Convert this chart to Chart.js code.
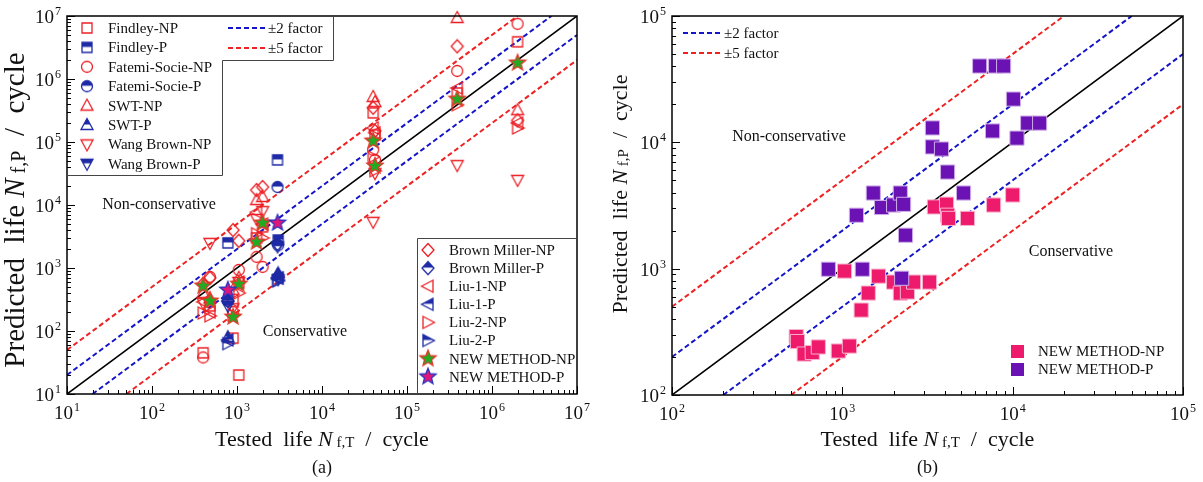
<!DOCTYPE html>
<html>
<head>
<meta charset="utf-8">
<script src="https://cdn.jsdelivr.net/npm/chart.js@4.4.1/dist/chart.umd.min.js"></script>
<style>
  body { margin: 0; background: #fff; width: 1203px; height: 482px; overflow: hidden; position: relative; }
  canvas { position: absolute; top: 0; }
  #chartA { left: 0; }
  #chartB { left: 600px; }
</style>
</head>
<body>
<canvas id="chartA" width="600" height="482"></canvas>
<canvas id="chartB" width="603" height="482"></canvas>
<script>
// ---------- panel (a): all criteria ----------
const rangeA = [10, 1e7];
const decadesA = [1, 2, 3, 4, 5, 6, 7];

// tested lives of the non-proportional and proportional load paths
const testedNP = [400, 480, 900, 1050, 1700, 2000, 40000, 42000, 390000, 2000000];
const testedP = [780, 3000, 3050];

// predicted lives, NP paths
const findleyNP = [45, 250, 77, 20, 3000, 4500, 290000, 130000, 600000, 3900000];
const fatemiNP = [38, 720, 200, 930, 1500, 1040, 75000, 52000, 1340000, 7500000];
const swtNP = [400, 330, 450, 700, 12000, 13400, 520000, 430000, 9300000, 320000];
const wangNP = [280, 2500, 230, 600, 6000, 8000, 5400, 32000, 43000, 25000];
const brownNP = [560, 700, 4000, 2700, 17300, 19300, 350000, 150000, 3300000, 220000];
const liu1NP = [290, 200, 300, 600, 7700, 5000, 167000, 140000, 720000, 200000];
const liu2NP = [193, 174, 180, 400, 3500, 3000, 58000, 35000, 390000, 167000];
const newNP = [520, 300, 167, 557, 2590, 5180, 104000, 41600, 480000, 1800000];

// predicted lives, P paths
const findleyP = [2500, 52000, 2780];
const fatemiP = [300, 19300, 2300];
const swtP = [80, 780, 820];
const wangP = [250, 2200, 660];
const brownP = [300, 2400, 740];
const liu1P = [72, 700, 690];
const liu2P = [63, 620, 640];
const newP = [448, 5180, null];

// ---------- panel (b): new method only ----------
const rangeB = [100, 1e5];
const decadesB = [2, 3, 4, 5];

const testedB_NP = [536, 545, 597, 666, 723, 947, 1100, 1030, 1290, 1420, 1630, 2000, 2190, 2410, 2620, 3250, 3470, 4090, 4150, 4200, 5430, 7730, 10000];
const predictedB_NP = [290, 265, 211, 217, 240, 223, 244, 957, 470, 641, 873, 783, 640, 653, 783, 783, 3080, 3240, 2650, 2500, 2500, 3190, 3830];
const testedB_P = [828, 1310, 1210, 1520, 1700, 2000, 2190, 2290, 2230, 2350, 3380, 3380, 3820, 4150, 5150, 6400, 7940, 8850, 10100, 7620, 10600, 12250, 14400];
const predictedB_P = [990, 990, 2650, 3970, 3050, 3190, 3970, 3230, 840, 1840, 13000, 9200, 8850, 5820, 3970, 40200, 40200, 40200, 22000, 12300, 10800, 14200, 14200];

const scatterFactors = [2, 5];

// ---------- styles ----------
const SERIF = '"Liberation Serif", "Times New Roman", serif';
const RED = '#ec1f24';
const BLUE = '#1e2aa6';
const GUIDE_BLUE = '#1414c8';
const GUIDE_RED = '#ee2222';
const PINK = '#ee1a6c';
const PURPLE = '#6a12b4';

// marker outlines, centred on 0,0
function polyPath(pts) {
  const p = new Path2D();
  pts.forEach(([x, y], i) => (i ? p.lineTo(x, y) : p.moveTo(x, y)));
  p.closePath();
  return p;
}

function starPath(ro, ri) {
  const pts = [];
  for (let i = 0; i < 10; i++) {
    const r = i % 2 ? ri : ro;
    const a = -Math.PI / 2 + (i * Math.PI) / 5;
    pts.push([r * Math.cos(a), r * Math.sin(a)]);
  }
  return polyPath(pts);
}

const SHAPES = {
  square: () => { const p = new Path2D(); p.rect(-5, -5, 10, 10); return p; },
  circle: () => { const p = new Path2D(); p.arc(0, 0, 5.5, 0, Math.PI * 2); return p; },
  up: () => polyPath([[0, -6.5], [6, 4.5], [-6, 4.5]]),
  down: () => polyPath([[0, 6.5], [6, -4.5], [-6, -4.5]]),
  diamond: () => polyPath([[0, -6.5], [6, 0], [0, 6.5], [-6, 0]]),
  left: () => polyPath([[-6.5, 0], [5, -6], [5, 6]]),
  right: () => polyPath([[6.5, 0], [-5, -6], [-5, 6]]),
  star: () => starPath(8.5, 3.7),
};

// draws a marker into a small canvas so Chart.js can use it as pointStyle
function makeMarker(shape, stroke, mode, fill) {
  const s = shape === 'star' ? 22 : 16;
  const c = document.createElement('canvas');
  c.width = s;
  c.height = s;
  const ctx = c.getContext('2d');
  ctx.translate(s / 2, s / 2);
  const path = SHAPES[shape]();
  if (mode === 'fill') {
    ctx.fillStyle = fill;
    ctx.fill(path);
  } else if (mode === 'half') {
    ctx.save();
    ctx.beginPath();
    ctx.rect(-s / 2, -s / 2, s, s / 2 - 0.5);
    ctx.clip();
    ctx.fillStyle = stroke;
    ctx.fill(path);
    ctx.restore();
  }
  ctx.strokeStyle = stroke;
  ctx.lineWidth = 1.3;
  ctx.lineJoin = 'miter';
  ctx.stroke(path);
  return c;
}

const mk = {
  findleyNP: makeMarker('square', RED, 'open'),
  findleyP: makeMarker('square', BLUE, 'half'),
  fatemiNP: makeMarker('circle', RED, 'open'),
  fatemiP: makeMarker('circle', BLUE, 'half'),
  swtNP: makeMarker('up', RED, 'open'),
  swtP: makeMarker('up', BLUE, 'half'),
  wangNP: makeMarker('down', RED, 'open'),
  wangP: makeMarker('down', BLUE, 'half'),
  brownNP: makeMarker('diamond', RED, 'open'),
  brownP: makeMarker('diamond', BLUE, 'half'),
  liu1NP: makeMarker('left', RED, 'open'),
  liu1P: makeMarker('left', BLUE, 'half'),
  liu2NP: makeMarker('right', RED, 'open'),
  liu2P: makeMarker('right', BLUE, 'half'),
  newNP: makeMarker('star', '#e03a2a', 'fill', '#22aa22'),
  newP: makeMarker('star', '#2a34c0', 'fill', '#e0157c'),
};

function markerSet(label, xs, ys, img) {
  const data = [];
  xs.forEach((x, i) => { if (ys[i] != null) data.push({ x, y: ys[i] }); });
  return { label, data, pointStyle: img, pointRadius: 6, clip: false, showLine: false };
}

// y = x, and the +/- factor bands, clipped to the axis range
function guideLines(range) {
  const [lo, hi] = range;
  const sets = [{
    data: [{ x: lo, y: lo }, { x: hi, y: hi }],
    borderColor: '#000', borderWidth: 1.6,
  }];
  scatterFactors.forEach((f) => {
    const color = f === 2 ? GUIDE_BLUE : GUIDE_RED;
    sets.push({ data: [{ x: lo, y: lo * f }, { x: hi / f, y: hi }], borderColor: color });
    sets.push({ data: [{ x: lo * f, y: lo }, { x: hi, y: hi / f }], borderColor: color });
  });
  return sets.map((s) => ({
    type: 'line', showLine: true, pointRadius: 0, borderWidth: 2,
    borderDash: s.borderColor === '#000' ? [] : [5, 3], ...s,
  }));
}

// ---------- text helpers ----------
function powLabel(ctx, x, y, exp, align) {
  ctx.textAlign = 'left';
  ctx.textBaseline = 'alphabetic';
  ctx.font = `19px ${SERIF}`;
  const wb = ctx.measureText('10').width;
  ctx.font = `12px ${SERIF}`;
  const we = ctx.measureText(String(exp)).width + 1;
  const x0 = align === 'center' ? x - (wb + we) / 2 : x - wb - we;
  ctx.font = `19px ${SERIF}`;
  ctx.fillText('10', x0, y);
  ctx.font = `12px ${SERIF}`;
  ctx.fillText(String(exp), x0 + wb + 1, y - 8);
}

function richText(ctx, parts, cx, cy, angle) {
  let total = 0;
  parts.forEach((p) => { ctx.font = p.font; p.w = ctx.measureText(p.text).width; total += p.w; });
  ctx.save();
  ctx.translate(cx, cy);
  ctx.rotate(angle || 0);
  ctx.textAlign = 'left';
  ctx.textBaseline = 'alphabetic';
  let x = -total / 2;
  parts.forEach((p) => { ctx.font = p.font; ctx.fillText(p.text, x, p.dy || 0); x += p.w; });
  ctx.restore();
}

function axisTitle(word, sub, size) {
  const small = Math.round(size * 0.68);
  return [
    { text: `${word}  life `, font: `${size}px ${SERIF}` },
    { text: 'N', font: `italic ${size}px ${SERIF}` },
    { text: ` ${sub}`, font: `${small}px ${SERIF}`, dy: 1 },
    { text: '  /  cycle', font: `${size}px ${SERIF}` },
  ];
}

function drawLogTicks(ctx, chart) {
  const { x: sx, y: sy } = chart.scales;
  const a = chart.chartArea;
  ctx.strokeStyle = '#000';
  ctx.lineWidth = 1;
  const lo = Math.round(Math.log10(sx.min));
  const hi = Math.round(Math.log10(sx.max));
  for (let e = lo; e <= hi; e++) {
    for (let m = 1; m < 10; m++) {
      const v = m * 10 ** e;
      if (v > sx.max * 1.0001) break;
      const len = m === 1 ? 8 : 4;
      const px = Math.round(sx.getPixelForValue(v)) + 0.5;
      ctx.beginPath(); ctx.moveTo(px, a.bottom); ctx.lineTo(px, a.bottom - len); ctx.stroke();
    }
  }
  const ylo = Math.round(Math.log10(sy.min));
  const yhi = Math.round(Math.log10(sy.max));
  for (let e = ylo; e <= yhi; e++) {
    for (let m = 1; m < 10; m++) {
      const v = m * 10 ** e;
      if (v > sy.max * 1.0001) break;
      const len = m === 1 ? 8 : 4;
      const py = Math.round(sy.getPixelForValue(v)) + 0.5;
      ctx.beginPath(); ctx.moveTo(a.left, py); ctx.lineTo(a.left + len, py); ctx.stroke();
    }
  }
}

function dashedKey(ctx, x0, x1, y, color) {
  ctx.save();
  ctx.strokeStyle = color;
  ctx.lineWidth = 2;
  ctx.setLineDash([5, 3]);
  ctx.beginPath(); ctx.moveTo(x0, y); ctx.lineTo(x1, y); ctx.stroke();
  ctx.restore();
}

function label(ctx, text, x, y, size, align) {
  ctx.font = `${size}px ${SERIF}`;
  ctx.textAlign = align || 'left';
  ctx.textBaseline = 'middle';
  ctx.fillStyle = '#111';
  ctx.fillText(text, x, y);
}

// frame, ticks, tick labels, titles and legends for one panel
function panelDecor(opts) {
  return {
    id: 'panelDecor',
    afterDraw(chart) {
      const ctx = chart.ctx;
      const a = chart.chartArea;
      const { x: sx, y: sy } = chart.scales;
      ctx.save();
      ctx.fillStyle = '#111';
      drawLogTicks(ctx, chart);
      ctx.strokeStyle = '#000';
      ctx.lineWidth = 1.5;
      ctx.strokeRect(a.left, a.top, a.right - a.left, a.bottom - a.top);

      ctx.fillStyle = '#111';
      opts.decades.forEach((e) => {
        powLabel(ctx, sx.getPixelForValue(10 ** e), a.bottom + 25, e, 'center');
        powLabel(ctx, a.left - 6, sy.getPixelForValue(10 ** e) + 7, e, 'right');
      });
      const cx = (a.left + a.right) / 2;
      ctx.fillStyle = '#111';
      richText(ctx, axisTitle('Tested', 'f,T', 22), cx, 446);
      richText(ctx, axisTitle('Predicted', 'f,P', opts.yTitleSize), opts.yTitleX, opts.yTitleY, -Math.PI / 2);
      label(ctx, opts.tag, cx, 468, 18, 'center');
      opts.extra(ctx, a);
      ctx.restore();
    },
  };
}

// ---------- panel (a) ----------
const legendLeftA = [
  ['Findley-NP', mk.findleyNP], ['Findley-P', mk.findleyP],
  ['Fatemi-Socie-NP', mk.fatemiNP], ['Fatemi-Socie-P', mk.fatemiP],
  ['SWT-NP', mk.swtNP], ['SWT-P', mk.swtP],
  ['Wang Brown-NP', mk.wangNP], ['Wang Brown-P', mk.wangP],
];
const legendRightA = [
  ['Brown Miller-NP', mk.brownNP], ['Brown Miller-P', mk.brownP],
  ['Liu-1-NP', mk.liu1NP], ['Liu-1-P', mk.liu1P],
  ['Liu-2-NP', mk.liu2NP], ['Liu-2-P', mk.liu2P],
  ['NEW METHOD-NP', mk.newNP], ['NEW METHOD-P', mk.newP],
];

new Chart(document.getElementById('chartA'), {
  type: 'scatter',
  data: {
    datasets: [
      markerSet('NEW METHOD-P', testedP, newP, mk.newP),
      markerSet('NEW METHOD-NP', testedNP, newNP, mk.newNP),
      markerSet('Findley-P', testedP, findleyP, mk.findleyP),
      markerSet('Fatemi-Socie-P', testedP, fatemiP, mk.fatemiP),
      markerSet('SWT-P', testedP, swtP, mk.swtP),
      markerSet('Wang Brown-P', testedP, wangP, mk.wangP),
      markerSet('Brown Miller-P', testedP, brownP, mk.brownP),
      markerSet('Liu-1-P', testedP, liu1P, mk.liu1P),
      markerSet('Liu-2-P', testedP, liu2P, mk.liu2P),
      markerSet('Findley-NP', testedNP, findleyNP, mk.findleyNP),
      markerSet('Fatemi-Socie-NP', testedNP, fatemiNP, mk.fatemiNP),
      markerSet('SWT-NP', testedNP, swtNP, mk.swtNP),
      markerSet('Wang Brown-NP', testedNP, wangNP, mk.wangNP),
      markerSet('Brown Miller-NP', testedNP, brownNP, mk.brownNP),
      markerSet('Liu-1-NP', testedNP, liu1NP, mk.liu1NP),
      markerSet('Liu-2-NP', testedNP, liu2NP, mk.liu2NP),
      ...guideLines(rangeA),
    ],
  },
  options: {
    responsive: false,
    animation: false,
    events: [],
    layout: { padding: { left: 67, top: 16, right: 23, bottom: 88 } },
    plugins: { legend: { display: false }, tooltip: { enabled: false } },
    scales: {
      x: { type: 'logarithmic', min: rangeA[0], max: rangeA[1], display: false },
      y: { type: 'logarithmic', min: rangeA[0], max: rangeA[1], display: false },
    },
  },
  plugins: [panelDecor({
    decades: decadesA,
    yTitleX: 24,
    yTitleY: 210,
    yTitleSize: 29,
    tag: '(a)',
    extra(ctx, a) {
      // upper-left legend, L-shaped frame
      ctx.strokeStyle = '#444';
      ctx.lineWidth = 1;
      ctx.beginPath();
      ctx.moveTo(a.left, 175.5);
      ctx.lineTo(222.5, 175.5);
      ctx.lineTo(222.5, 60.5);
      ctx.lineTo(333.5, 60.5);
      ctx.lineTo(333.5, a.top);
      ctx.stroke();
      legendLeftA.forEach(([t, img], i) => {
        const y = 28 + i * 19.4;
        ctx.drawImage(img, 87 - img.width / 2, y - img.height / 2);
        label(ctx, t, 108, y + 1, 15);
      });
      dashedKey(ctx, 228, 267, 28, GUIDE_BLUE);
      label(ctx, '\u00b12 factor', 268, 29, 15);
      dashedKey(ctx, 228, 267, 48, GUIDE_RED);
      label(ctx, '\u00b15 factor', 268, 49, 15);

      // lower-right legend
      ctx.strokeStyle = '#444';
      ctx.beginPath();
      ctx.moveTo(417.5, a.bottom);
      ctx.lineTo(417.5, 238.5);
      ctx.lineTo(a.right, 238.5);
      ctx.stroke();
      legendRightA.forEach(([t, img], i) => {
        const y = 250 + i * 18.1;
        ctx.drawImage(img, 428 - img.width / 2, y - img.height / 2);
        label(ctx, t, 449, y + 1, 15);
      });

      label(ctx, 'Non-conservative', 159, 205, 16, 'center');
      label(ctx, 'Conservative', 305, 332, 16, 'center');
    },
  })],
});

// ---------- panel (b) ----------
function squareSet(label, xs, ys, fill, edge) {
  return {
    label,
    data: xs.map((x, i) => ({ x, y: ys[i] })),
    pointStyle: 'rect',
    pointRadius: 10,
    backgroundColor: fill,
    borderColor: edge,
    borderWidth: 1,
    clip: false,
    showLine: false,
  };
}

new Chart(document.getElementById('chartB'), {
  type: 'scatter',
  data: {
    datasets: [
      squareSet('NEW METHOD-P', testedB_P, predictedB_P, PURPLE, '#cfaee8'),
      squareSet('NEW METHOD-NP', testedB_NP, predictedB_NP, PINK, '#f7b3cd'),
      ...guideLines(rangeB),
    ],
  },
  options: {
    responsive: false,
    animation: false,
    events: [],
    layout: { padding: { left: 72, top: 16, right: 20, bottom: 87 } },
    plugins: { legend: { display: false }, tooltip: { enabled: false } },
    scales: {
      x: { type: 'logarithmic', min: rangeB[0], max: rangeB[1], display: false },
      y: { type: 'logarithmic', min: rangeB[0], max: rangeB[1], display: false },
    },
  },
  plugins: [panelDecor({
    decades: decadesB,
    yTitleX: 27,
    yTitleY: 194,
    yTitleSize: 22,
    tag: '(b)',
    extra(ctx) {
      dashedKey(ctx, 83, 122, 33, GUIDE_BLUE);
      label(ctx, '\u00b12 factor', 124, 34, 15);
      dashedKey(ctx, 83, 122, 53, GUIDE_RED);
      label(ctx, '\u00b15 factor', 124, 54, 15);

      ctx.fillStyle = PINK;
      ctx.fillRect(411, 345, 13, 13);
      ctx.fillStyle = PURPLE;
      ctx.fillRect(411, 363, 13, 13);
      label(ctx, 'NEW METHOD-NP', 438, 352, 15);
      label(ctx, 'NEW METHOD-P', 438, 370, 15);

      label(ctx, 'Non-conservative', 189, 137, 16, 'center');
      label(ctx, 'Conservative', 471, 252, 16, 'center');
    },
  })],
});
</script>
</body>
</html>
